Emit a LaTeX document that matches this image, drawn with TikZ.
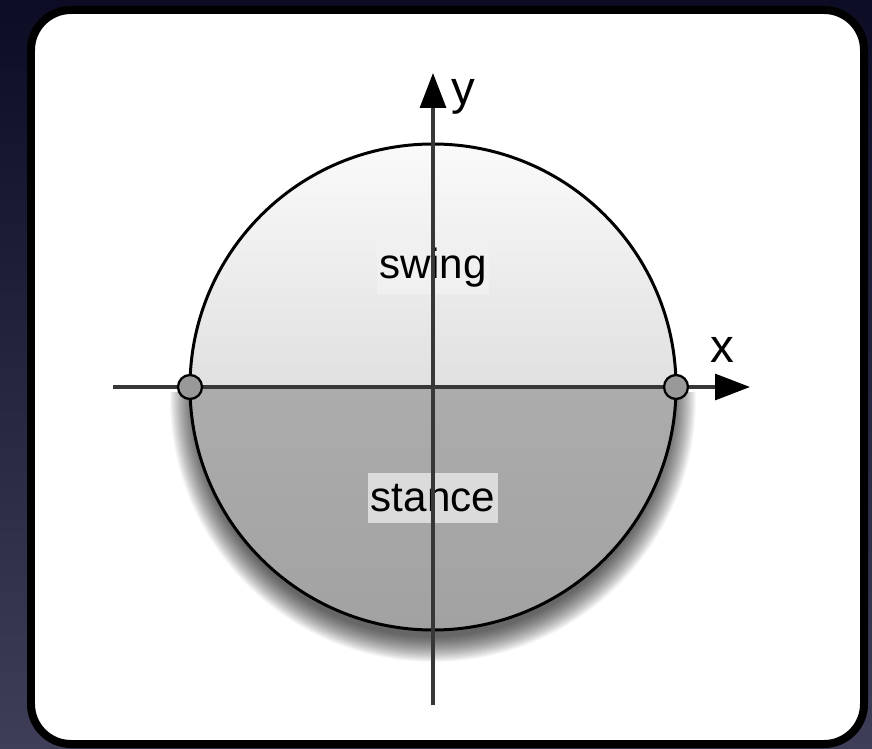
\documentclass[tikz,border=0pt]{standalone}
\usepackage{fontspec}
\setmainfont{Liberation Sans}
\usepackage{tikz}
\usetikzlibrary{arrows.meta}
\definecolor{bgtop}{RGB}{12,12,36}
\definecolor{bgbot}{RGB}{62,62,88}
\definecolor{lowerlight}{RGB}{172,172,172}
\definecolor{lowerdark}{RGB}{162,162,162}
\definecolor{upperlight}{RGB}{250,250,250}
\definecolor{upperdark}{RGB}{224,224,224}
\definecolor{axisgray}{RGB}{55,55,55}

\begin{document}
\begin{tikzpicture}[x=0.02cm, y=0.02cm,
  axis/.style={draw=axisgray, line width=1.8pt, -{Triangle[length=0.7cm, width=0.52cm, color=black]}},
  phase/.style={font=\fontsize{24}{28}\selectfont, inner xsep=0.05cm, minimum height=1cm},
  dot/.style={circle, draw=black, line width=1.3pt, fill=gray!80, minimum size=0.48cm, inner sep=0pt},
]
% backdrop and panel
\shade[top color=bgtop, bottom color=bgbot] (0,0) rectangle (872,748);
\draw[black, line width=0.16cm, fill=white, rounded corners=0.8cm] (31,4) rectangle (864,738);

% gait circle
\coordinate (o) at (433,361);
\begin{scope}
  \clip (0,0) rectangle (872,356);
  \foreach \r in {238,...,263}
    \fill[black, opacity=0.032] (433,349) circle[radius=\r];
\end{scope}
\shade[top color=upperlight, bottom color=upperdark] (o) ++(180:243) arc[start angle=180, end angle=0, radius=243] -- cycle;
\shade[top color=lowerlight, bottom color=lowerdark] (o) ++(180:243) arc[start angle=180, end angle=360, radius=243] -- cycle;
\draw[black, line width=1.7pt] (o) circle[radius=243];

% phases
\node[phase, fill=black!6] (swing) at (433,480) {swing};
\node[phase, fill=black!14] (stance) at (433,250) {stance};

% axes
\coordinate (xstart) at (113,361);
\coordinate (xtip) at (750,361);
\coordinate (ystart) at (433,43);
\coordinate (ytip) at (433,675);
\draw[axis] (xstart) -- (xtip);
\draw[axis] (ystart) -- (ytip);
\node[font=\fontsize{27}{30}\selectfont] (xlab) at (722,398) {x};
\node[font=\fontsize{27}{30}\selectfont] (ylab) at (463,651) {y};

% touchdown / liftoff
\node[dot] (touch) at (190,361) {};
\node[dot] (lift) at (676,361) {};
\end{tikzpicture}
\end{document}
